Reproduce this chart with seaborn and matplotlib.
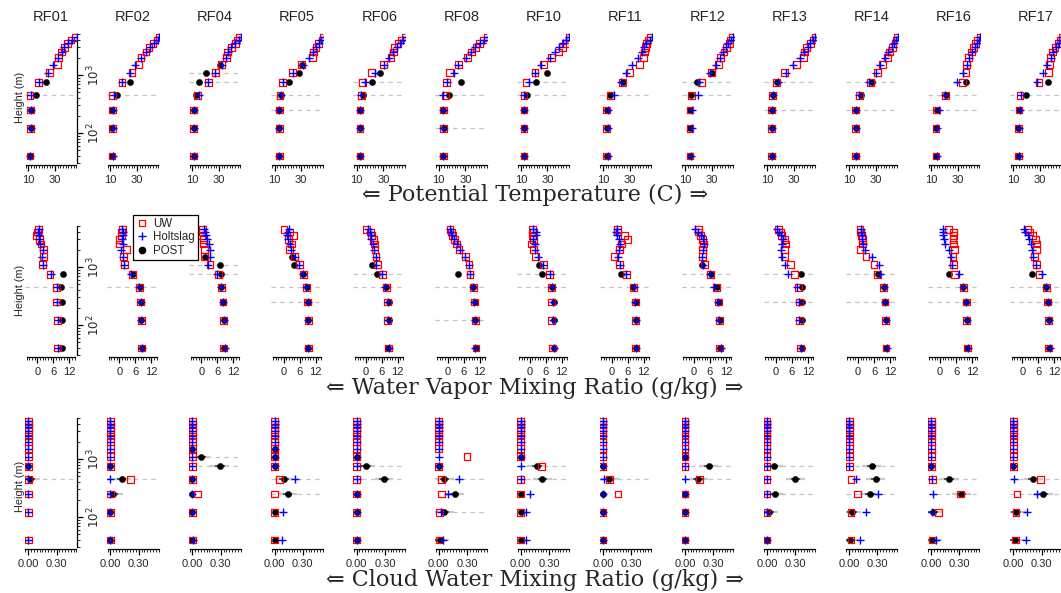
import numpy as np
import pandas as pd
import matplotlib
matplotlib.use("Agg")
import matplotlib.pyplot as plt
import seaborn as sns
from matplotlib.ticker import FixedLocator, NullFormatter
from matplotlib.lines import Line2D

nan = np.nan

flights = ["RF01", "RF02", "RF04", "RF05", "RF06", "RF08", "RF10",
           "RF11", "RF12", "RF13", "RF14", "RF16", "RF17"]
heights = [40, 120, 250, 450, 750, 1100, 1500, 2000, 2500, 3000, 3500, 4000, 4500]
cloud_levels = [[450], [450], [750, 1100], [250, 450], [450, 750], [120, 450],
                [450, 750], [450], [450, 750], [250, 750], [250, 750],
                [250, 450], [250, 450]]

# ---- potential temperature (C) ----
theta_uw = [
    [11.3, 11.5, 11.5, 11.3, 17.5, 25.8, 32.0, 32.5, 35.0, 37.0, 39.5, 42.0, 45.0],
    [11.2, 11.5, 11.5, 11.7, 18.7, 26.2, 31.5, 33.0, 36.7, 39.0, 42.0, 45.0, 46.5],
    [11.0, 11.0, 11.0, 13.5, 22.0, 27.5, 31.8, 35.5, 36.0, 39.0, 42.0, 44.0, 45.5],
    [13.4, 13.4, 13.4, 14.1, 15.9, 23.4, 30.4, 38.6, 39.0, 41.0, 43.0, 45.6, 46.5],
    [12.5, 12.5, 12.5, 13.8, 14.5, 21.3, 30.0, 35.8, 37.6, 38.0, 41.0, 43.8, 46.3],
    [13.5, 13.8, 13.8, 14.8, 16.0, 17.8, 24.8, 31.5, 34.3, 38.0, 40.5, 43.5, 46.3],
    [12.4, 12.4, 12.4, 12.4, 13.9, 20.7, 26.9, 33.2, 38.1, 41.4, 43.6, 46.1, 46.5],
    [12.9, 12.9, 12.9, 15.9, 24.8, 30.3, 37.3, 40.3, 41.0, 42.0, 42.8, 44.5, 45.3],
    [13.8, 13.8, 13.8, 15.0, 22.5, 30.0, 35.0, 36.8, 39.3, 41.3, 43.3, 44.3, 45.8],
    [13.5, 13.5, 13.5, 14.3, 16.8, 22.8, 32.3, 37.3, 37.8, 39.8, 42.3, 44.5, 46.0],
    [14.9, 14.9, 14.9, 17.7, 26.2, 31.2, 35.2, 38.7, 40.2, 42.7, 44.5, 45.7, 46.3],
    [13.6, 13.6, 14.1, 20.9, 33.4, 36.1, 36.6, 37.9, 40.4, 41.6, 43.4, 45.0, 46.6],
    [13.8, 13.8, 14.3, 15.0, 29.3, 36.3, 37.0, 38.0, 39.5, 41.3, 43.8, 45.0, 46.5],
]
theta_holt = [
    [11.5, 11.7, 11.7, 12.0, 18.3, 24.5, 28.3, 32.0, 35.0, 37.0, 40.0, 43.0, 46.5],
    [11.7, 11.8, 11.8, 12.5, 18.5, 24.5, 28.5, 33.0, 36.5, 40.0, 43.0, 45.5, 46.8],
    [11.5, 11.5, 11.5, 15.0, 21.5, 27.0, 32.0, 35.0, 37.0, 39.0, 42.0, 45.0, 46.5],
    [13.5, 13.5, 13.5, 14.5, 16.0, 24.0, 31.0, 36.0, 38.5, 41.0, 43.0, 45.0, 46.8],
    [12.5, 12.8, 12.5, 13.5, 16.0, 23.5, 30.5, 34.0, 37.6, 40.0, 42.5, 45.0, 46.8],
    [13.0, 13.0, 13.0, 13.5, 16.5, 21.5, 24.5, 30.5, 34.0, 37.5, 41.0, 44.0, 46.8],
    [12.5, 12.5, 12.5, 12.5, 16.0, 21.0, 25.5, 32.0, 35.5, 38.5, 42.0, 44.0, 46.5],
    [13.5, 14.0, 14.0, 18.0, 23.5, 27.5, 32.0, 36.0, 39.0, 41.0, 42.5, 45.0, 46.5],
    [14.5, 15.0, 15.0, 19.5, 20.5, 29.0, 33.0, 36.0, 38.5, 41.0, 42.5, 44.5, 46.0],
    [13.8, 14.0, 13.8, 14.5, 18.5, 24.5, 29.5, 34.5, 38.0, 40.5, 42.5, 44.5, 46.0],
    [15.3, 15.0, 15.0, 17.5, 25.0, 30.0, 33.5, 37.0, 39.5, 42.0, 44.0, 45.5, 46.5],
    [14.5, 14.5, 15.5, 20.5, 29.5, 34.0, 37.0, 38.0, 40.5, 42.5, 44.0, 45.5, 46.8],
    [14.3, 14.3, 14.8, 16.0, 27.5, 32.5, 35.5, 38.0, 39.8, 42.0, 44.0, 45.5, 46.8],
]
theta_post = [
    [11.5, 11.7, 11.7, 15.5, 23.3, nan, nan, nan, nan, nan, nan, nan, nan],
    [11.5, 11.5, 11.5, 14.7, 24.5, nan, nan, nan, nan, nan, nan, nan, nan],
    [11.0, 11.0, 11.0, 13.0, 14.8, 20.5, 30.5, nan, nan, nan, nan, nan, nan],
    [13.4, 13.4, 13.4, 15.0, 21.1, 28.4, 30.5, nan, nan, nan, nan, nan, nan],
    [12.5, 12.5, 12.5, 14.5, 21.8, 27.6, nan, nan, nan, nan, nan, nan, nan],
    [13.5, 13.8, 13.5, 18.0, 26.5, nan, nan, nan, nan, nan, nan, nan, nan],
    [12.4, 12.4, 12.4, 14.4, 21.4, 29.9, nan, nan, nan, nan, nan, nan, nan],
    [12.9, 12.9, 12.9, 15.5, 24.8, nan, nan, nan, nan, nan, nan, nan, nan],
    [13.8, 13.8, 13.8, 14.5, 19.3, 30.0, nan, nan, nan, nan, nan, nan, nan],
    [13.5, 13.5, 13.5, 14.3, 17.5, nan, nan, nan, nan, nan, nan, nan, nan],
    [14.9, 14.9, 14.9, 18.7, 27.0, nan, nan, nan, nan, nan, nan, nan, nan],
    [13.6, 13.6, 14.0, 21.0, 35.9, nan, nan, nan, nan, nan, nan, nan, nan],
    [13.8, 13.8, 14.0, 19.5, 36.3, nan, nan, nan, nan, nan, nan, nan, nan],
]

# ---- water vapor mixing ratio (g/kg) ----
q_uw = [
    [7.5, 7.5, 7.3, 7.3, 4.75, 2.0, 2.25, 2.25, 1.4, 0.75, -0.25, 0.0, 0.4],
    [8.4, 8.25, 8.0, 7.5, 5.0, 1.9, 1.7, 2.7, 0.2, -0.1, 0.9, 0.9, 1.1],
    [8.4, 8.4, 8.1, 7.6, 6.3, 3.2, 1.2, 1.2, 0.9, 0.9, 0.1, 0.4, 0.3],
    [9.3, 9.3, 9.1, 8.7, 7.4, 5.9, 4.0, 2.2, 3.0, 1.8, 3.7, 2.2, 0.2],
    [8.5, 8.3, 8.3, 7.9, 6.4, 4.4, 3.9, 3.5, 3.3, 2.9, 2.3, 1.9, 0.4],
    [10.6, 10.4, 10.0, 9.6, 8.4, 8.0, 6.75, 4.25, 3.4, 2.5, 1.9, 1.5, 0.9],
    [8.5, 8.3, 8.3, 8.2, 7.3, 5.1, 2.2, 1.3, 0.5, 1.3, 1.1, 1.3, 0.9],
    [9.0, 9.0, 8.9, 8.0, 5.5, 3.0, 0.8, 2.8, 3.7, 5.9, 4.9, 2.2, 2.0],
    [9.6, 9.6, 9.3, 8.6, 6.1, 4.1, 3.2, 3.3, 3.5, 3.2, 2.6, 1.8, 1.6],
    [9.3, 8.9, 8.9, 8.5, 6.9, 5.3, 3.2, 3.2, 3.5, 3.1, 2.2, 1.6, 0.9],
    [10.5, 10.4, 10.1, 9.5, 7.2, 6.0, 3.0, 0.7, 1.6, 1.7, 1.3, 1.0, 0.7],
    [10.2, 10.0, 9.8, 8.9, 5.5, 5.0, 4.8, 5.3, 5.0, 4.8, 5.0, 5.0, 3.0],
    [10.0, 9.8, 9.5, 9.0, 6.3, 5.5, 4.6, 5.5, 5.5, 5.0, 4.0, 2.6, 2.2],
]
q_holt = [
    [7.8, 7.6, 7.5, 7.5, 5.0, 2.2, 1.8, 2.0, 1.2, 0.6, 0.5, 0.4, 0.5],
    [8.5, 8.3, 8.0, 7.5, 4.5, 1.9, 1.5, 0.6, 1.2, 1.0, 1.3, 1.2, 1.1],
    [8.8, 8.3, 8.0, 7.5, 6.0, 2.6, 3.3, 3.2, 2.9, 2.0, 1.8, 1.5, 1.0],
    [9.3, 9.1, 9.0, 8.5, 7.2, 5.8, 4.2, 2.8, 2.3, 1.5, 1.2, 1.8, 2.2],
    [8.7, 8.3, 8.3, 7.4, 6.0, 4.0, 3.8, 3.0, 2.7, 2.2, 2.0, 1.5, 1.0],
    [10.3, 10.1, 9.7, 9.4, 8.4, 8.0, 6.5, 4.5, 3.5, 2.5, 1.8, 1.4, 0.9],
    [9.1, 8.7, 8.8, 8.5, 7.5, 5.0, 3.1, 2.0, 2.0, 1.4, 2.4, 2.3, 1.1],
    [9.1, 9.0, 8.8, 8.2, 5.3, 3.2, 2.2, 2.8, 3.0, 2.6, 1.8, 1.5, 2.0],
    [10.0, 9.5, 9.0, 7.5, 6.0, 3.5, 3.2, 3.4, 3.7, 3.5, 2.5, 1.5, 0.5],
    [9.4, 8.8, 8.7, 8.0, 4.5, 3.2, 2.2, 1.8, 2.2, 2.8, 2.0, 1.0, 0.5],
    [10.7, 10.5, 10.0, 9.6, 8.2, 7.8, 5.3, 2.7, 1.8, 1.6, 1.3, 1.2, 1.0],
    [10.4, 10.1, 9.7, 8.5, 7.0, 4.5, 4.2, 3.3, 2.0, 1.3, 1.2, 1.2, 1.0],
    [10.3, 10.0, 9.6, 8.8, 7.3, 5.2, 4.0, 3.7, 3.2, 2.5, 2.0, 1.2, 0.8],
]
q_post = [
    [9.3, 9.3, 9.3, 9.0, 9.5, nan, nan, nan, nan, nan, nan, nan, nan],
    [8.4, 8.3, 8.2, 7.7, 5.2, nan, nan, nan, nan, nan, nan, nan, nan],
    [8.4, 8.4, 8.1, 7.4, 7.3, 6.9, 1.5, nan, nan, nan, nan, nan, nan],
    [9.3, 9.3, 9.2, 8.7, 7.2, 3.9, 3.1, nan, nan, nan, nan, nan, nan],
    [8.5, 8.6, 8.6, 7.8, 4.1, 2.5, nan, nan, nan, nan, nan, nan, nan],
    [10.6, 10.4, 10.2, 9.6, 4.0, nan, nan, nan, nan, nan, nan, nan, nan],
    [9.2, 9.2, 9.0, 8.5, 4.7, 3.3, nan, nan, nan, nan, nan, nan, nan],
    [9.1, 9.1, 9.0, 8.1, 3.3, nan, nan, nan, nan, nan, nan, nan, nan],
    [9.6, 9.6, 9.5, 8.7, 6.4, 3.0, nan, nan, nan, nan, nan, nan, nan],
    [9.6, 9.6, 9.6, 9.6, 9.3, nan, nan, nan, nan, nan, nan, nan, nan],
    [10.6, 10.5, 10.2, 9.6, 7.6, nan, nan, nan, nan, nan, nan, nan, nan],
    [10.2, 10.1, 9.8, 8.6, 3.4, nan, nan, nan, nan, nan, nan, nan, nan],
    [10.1, 10.0, 9.8, 9.1, 3.7, nan, nan, nan, nan, nan, nan, nan, nan],
]

# ---- cloud water mixing ratio (g/kg) ----
qc_uw = [
    [0, 0, 0, 0, 0, 0, 0, 0, 0, 0, 0, 0, 0],
    [0, 0, 0, 0.21, 0, 0, 0, 0, 0, 0, 0, 0, 0],
    [0, 0, 0.05, 0, 0, 0, 0, 0, 0, 0, 0, 0, 0],
    [0, 0, 0, 0.05, 0, 0, 0, 0, 0, 0, 0, 0, 0],
    [0, 0, 0, 0, 0, 0, 0, 0, 0, 0, 0, 0, 0],
    [0.01, 0.01, 0.03, 0.03, 0, 0.30, 0, 0, 0, 0, 0, 0, 0],
    [0, 0, 0, 0, 0.22, 0, 0, 0, 0, 0, 0, 0, 0],
    [0, 0, 0.16, 0.07, 0, 0, 0, 0, 0, 0, 0, 0, 0],
    [0, 0, 0, 0.15, 0, 0, 0, 0, 0, 0, 0, 0, 0],
    [0, 0, 0, 0, 0, 0, 0, 0, 0, 0, 0, 0, 0],
    [0.02, 0.02, 0.09, 0.02, 0, 0, 0, 0, 0, 0, 0, 0, 0],
    [0.01, 0.08, 0.31, 0.01, 0, 0, 0, 0, 0, 0, 0, 0, 0],
    [0.02, 0.03, 0.04, 0.29, 0, 0, 0, 0, 0, 0, 0, 0, 0],
]
qc_holt = [
    [0, 0, 0, 0, 0, 0, 0, 0, 0, 0, 0, 0, 0],
    [0, 0, 0, 0, 0, 0, 0, 0, 0, 0, 0, 0, 0],
    [0.01, 0, 0, 0, 0, 0, 0, 0, 0, 0, 0, 0, 0],
    [0.08, 0.09, nan, 0.22, 0, 0, 0, 0, 0, 0, 0, 0, 0],
    [0, 0, 0, 0, 0, 0, 0, 0, 0, 0, 0, 0, 0],
    [0.05, 0.02, 0.10, 0.21, 0, 0, 0, 0, 0, 0, 0, 0, 0],
    [0.05, 0.06, 0.10, 0, 0, 0, 0, 0, 0, 0, 0, 0, 0],
    [0, 0, 0, 0.01, 0, 0, 0, 0, 0, 0, 0, 0, 0],
    [0, 0, 0, 0, 0, 0, 0, 0, 0, 0, 0, 0, 0],
    [0, 0, 0, 0, 0, 0, 0, 0, 0, 0, 0, 0, 0],
    [0.12, 0.18, 0.31, 0.07, 0, 0, 0, 0, 0, 0, 0, 0, 0],
    [0.05, 0.01, 0.02, 0.01, 0, 0, 0, 0, 0, 0, 0, 0, 0],
    [0.13, 0.15, 0.25, 0.01, 0, 0, 0, 0, 0, 0, 0, 0, 0],
]
qc_post = [
    [nan, nan, nan, 0.02, 0, nan, nan, nan, nan, nan, nan, nan, nan],
    [0, 0, 0.03, 0.12, 0, nan, nan, nan, nan, nan, nan, nan, nan],
    [0, 0, 0, 0, 0.29, 0.09, 0, nan, nan, nan, nan, nan, nan],
    [0, 0, 0.14, 0.10, 0, 0, 0, nan, nan, nan, nan, nan, nan],
    [0, 0, 0, 0.29, 0.10, 0, nan, nan, nan, nan, nan, nan, nan],
    [0.01, 0.06, 0.17, 0.06, 0, nan, nan, nan, nan, nan, nan, nan, nan],
    [0, 0, 0, 0.23, 0.17, 0, nan, nan, nan, nan, nan, nan, nan],
    [0, 0, 0, 0.07, 0, nan, nan, nan, nan, nan, nan, nan, nan],
    [0, 0, 0, 0.14, 0.25, 0, nan, nan, nan, nan, nan, nan, nan],
    [0, 0.02, 0.08, 0.30, 0.07, nan, nan, nan, nan, nan, nan, nan, nan],
    [0.01, 0.03, 0.22, 0.28, 0.24, nan, nan, nan, nan, nan, nan, nan, nan],
    [0.01, 0.02, 0.32, 0.19, 0, nan, nan, nan, nan, nan, nan, nan, nan],
    [0.02, 0.03, 0.32, 0.21, 0, nan, nan, nan, nan, nan, nan, nan, nan],
]

# POST uncertainty half-widths per variable
theta_err = 1.0
q_err = 0.5
qc_err = 0.05

theta_ticks = [10, 30]
q_ticks = [0, 6, 12]
qc_ticks = [0.0, 0.30]
qc_ticklabels = ["0.00", "0.30"]
xlabels = ["\u21d0 Potential Temperature (C) \u21d2",
           "\u21d0 Water Vapor Mixing Ratio (g/kg) \u21d2",
           "\u21d0 Cloud Water Mixing Ratio (g/kg) \u21d2"]

# ---------------------------------------------------------------
sns.set_style("white")
plt.rcParams["font.family"] = ["Liberation Sans", "DejaVu Sans"]

W, H = 1061, 593
fig = plt.figure(figsize=(W / 100, H / 100), dpi=100)

rows = [
    dict(uw=theta_uw, holt=theta_holt, post=theta_post, err=theta_err,
         xlim=(7.5, 46.5), major=theta_ticks, labels=[str(t) for t in theta_ticks],
         minor=np.arange(8, 46.1, 2.0), bottom_px=165, xlab_px=195),
    dict(uw=q_uw, holt=q_holt, post=q_post, err=q_err,
         xlim=(-4.6, 14.9), major=q_ticks, labels=[str(t) for t in q_ticks],
         minor=np.arange(-4, 14.1, 1.0), bottom_px=357, xlab_px=388),
    dict(uw=qc_uw, holt=qc_holt, post=qc_post, err=qc_err,
         xlim=(-0.035, 0.516), major=qc_ticks, labels=qc_ticklabels,
         minor=np.arange(-0.03, 0.511, 0.03), bottom_px=549, xlab_px=580),
]

ymin, ymax = 10 ** 1.448, 10 ** 3.776
minor_y = [30, 40, 50, 60, 70, 80, 90, 200, 300, 400, 500, 600, 700, 800, 900,
           2000, 3000, 4000, 5000]

for r, cfg in enumerate(rows):
    for k, fl in enumerate(flights):
        left = (25 + 82.08 * k) / W
        ax = fig.add_axes([left, 1 - cfg["bottom_px"] / H, 52 / W, 135 / H])
        df = pd.DataFrame({"h": heights, "uw": cfg["uw"][k],
                           "holt": cfg["holt"][k], "post": cfg["post"][k]})
        for hh in cloud_levels[k]:
            ax.axhline(hh, color="#c4c4c4", ls=(0, (3.5, 3.5)), lw=0.9, zorder=1)
        pdf = df.dropna(subset=["post"])
        if r == 2:
            pdf = pdf[pdf["post"] > 0]
            ax.hlines(pdf["h"], pdf["post"] - 2 * cfg["err"], pdf["post"] + 2 * cfg["err"],
                      color="#c8c8c8", lw=1.6, zorder=2)
        ax.hlines(pdf["h"], pdf["post"] - cfg["err"], pdf["post"] + cfg["err"],
                  color="#555555", lw=1.4, zorder=2)
        sns.scatterplot(data=df, x="post", y="h", ax=ax, marker="o", color="black",
                        edgecolor="black", linewidth=0.3, s=20, zorder=3)
        sns.scatterplot(data=df, x="uw", y="h", ax=ax, marker="s", facecolors="none",
                        edgecolor="red", linewidth=0.9, s=24, zorder=4)
        sns.scatterplot(data=df, x="holt", y="h", ax=ax, marker="+", color="blue",
                        linewidth=1.0, s=32, zorder=5)
        ax.set_yscale("log")
        ax.set_ylim(ymin, ymax)
        ax.set_xlim(*cfg["xlim"])
        ax.set_xlabel("")
        ax.set_ylabel("")
        ax.set_facecolor("none")
        for s in ["top", "left"]:
            ax.spines[s].set_visible(False)
        ax.spines["bottom"].set_color("black")
        ax.spines["bottom"].set_linewidth(0.9)
        ax.spines["bottom"].set_bounds(cfg["minor"][0], cfg["minor"][-1])
        ax.xaxis.set_major_locator(FixedLocator(cfg["major"]))
        ax.xaxis.set_minor_locator(FixedLocator(cfg["minor"]))
        ax.set_xticklabels(cfg["labels"])
        ax.tick_params(axis="x", which="major", direction="out", length=4.5, width=0.9,
                       labelsize=8, pad=2.5, bottom=True, color="black")
        ax.tick_params(axis="x", which="minor", direction="out", length=2.2, width=0.6,
                       bottom=True, color="black")
        if k == 0:
            ax.spines["right"].set_visible(True)
            ax.spines["right"].set_color("black")
            ax.spines["right"].set_linewidth(0.9)
            ax.spines["right"].set_bounds(30, 5000)
            ax.yaxis.tick_right()
            ax.yaxis.set_major_locator(FixedLocator([100, 1000]))
            ax.yaxis.set_minor_locator(FixedLocator(minor_y))
            ax.yaxis.set_minor_formatter(NullFormatter())
            ax.set_yticklabels([r"$10^2$", r"$10^3$"], rotation=90, va="center")
            ax.tick_params(axis="y", which="major", direction="out", length=4.5,
                           width=0.9, labelsize=8.5, pad=2, right=True, left=False,
                           color="black")
            ax.tick_params(axis="y", which="minor", direction="out", length=2.2,
                           width=0.6, right=True, left=False, color="black")
        else:
            ax.spines["right"].set_visible(False)
            ax.set_yticks([])
            ax.yaxis.set_minor_locator(FixedLocator([]))
        if r == 0:
            fig.text((25 + 82.08 * k + 26) / W, 1 - 17 / H, fl, ha="center",
                     va="center", fontsize=10.5)

    fig.text(535 / W, 1 - cfg["xlab_px"] / H, xlabels[r], ha="center", va="center",
             fontsize=16, family=["DejaVu Serif", "DejaVu Sans"])

fig.text(20 / W, 1 - 97 / H, "Height (m)", rotation=90, ha="center", va="center",
         fontsize=7.8)
fig.text(20 / W, 1 - 290 / H, "Height (m)", rotation=90, ha="center", va="center",
         fontsize=7.8)
fig.text(20 / W, 1 - 486 / H, "Height (m)", rotation=90, ha="center", va="center",
         fontsize=7.8)

handles = [
    Line2D([], [], ls="none", marker="s", mfc="none", mec="red", mew=0.9, ms=5),
    Line2D([], [], ls="none", marker="+", color="blue", mew=1.0, ms=6),
    Line2D([], [], ls="none", marker="o", color="black", ms=4.5),
]
leg = fig.legend(handles, ["UW", "Holtslag", "POST"], loc="upper left",
                 bbox_to_anchor=(133 / W, 1 - 215 / H), fontsize=8.3,
                 frameon=True, fancybox=False, framealpha=1, edgecolor="black",
                 borderpad=0.25, labelspacing=0.12, handlelength=1.0,
                 handletextpad=0.5, borderaxespad=0)
leg.get_frame().set_linewidth(0.9)

fig.savefig("out.png", dpi=100)
